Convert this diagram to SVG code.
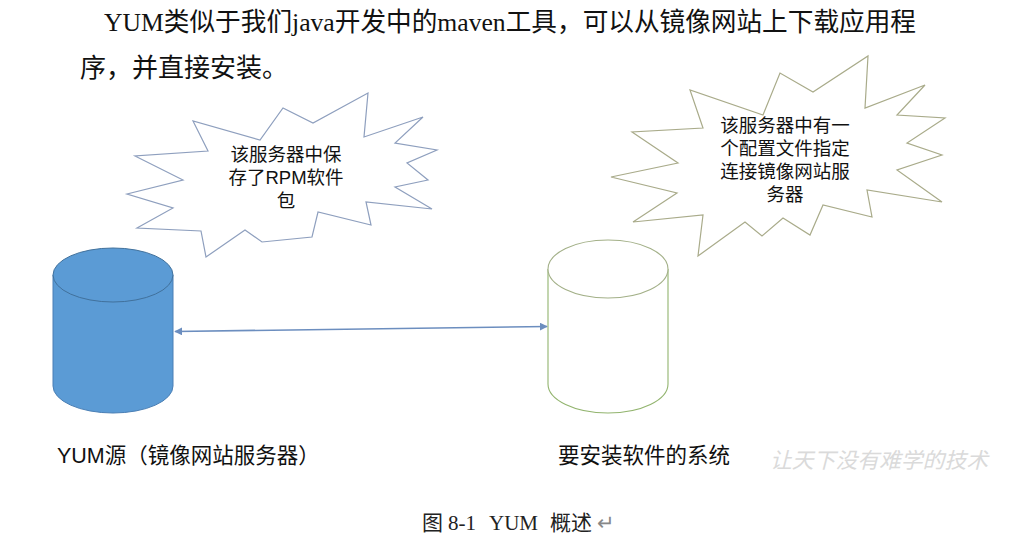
<svg xmlns="http://www.w3.org/2000/svg" width="1013" height="550" viewBox="0 0 1013 550">
<style>
.cjk{font-family:"Liberation Sans","Noto Sans CJK SC",sans-serif;fill:#111}
.ser{font-family:"Liberation Serif","Noto Sans CJK SC",serif}
.bubtxt{font-family:"Liberation Sans","Noto Sans CJK SC",sans-serif;font-size:18.5px;fill:#111;text-anchor:middle}
.burst1{fill:#ffffff;stroke:#8e9fbe;stroke-width:1.2;stroke-linejoin:miter}
.burst2{fill:#ffffff;stroke:#a9ab8a;stroke-width:1.2;stroke-linejoin:miter}
.label{font-family:"Liberation Sans","Noto Sans CJK SC",sans-serif;font-size:21.5px;fill:#111}
</style>
<defs>
<marker id="ah" viewBox="0 0 10 10" refX="9" refY="5" markerWidth="5" markerHeight="5" orient="auto-start-reverse" markerUnits="strokeWidth">
<path d="M0,0 L10,5 L0,10 z" fill="#6c8ebf"/>
</marker>
</defs>
<rect width="1013" height="550" fill="#ffffff"/>

<g id="intro">
<text x="104" y="31" font-size="26" textLength="812" lengthAdjust="spacingAndGlyphs" class="cjk"><tspan class="ser">YUM</tspan>类似于我们<tspan class="ser">java</tspan>开发中的<tspan class="ser">maven</tspan>工具，可以从镜像网站上下载应用程</text>
<text x="80" y="77" font-size="26" class="cjk">序，并直接安装。</text>
</g>

<g id="bubble-left">
<polygon class="burst1" points="368,93 364,137 423,117 395,143 437,150 407,163 428,180 395,187 432,209 366,202 371,225 318,212 312,237 262,242 245,230 206,257 201,231 137,228 173,208 127,194 183,180 135,156 208,151 193,121 260,140 283,108 313,123"/>
<text class="bubtxt"><tspan x="286" y="161">该服务器中保</tspan><tspan x="286" y="184">存了RPM软件</tspan><tspan x="286" y="207">包</tspan></text>
</g>

<g id="bubble-right">
<polygon class="burst2" points="868,56 865,108 925,85 897,115 945,118 907,143 942,155 897,170 942,202 867,190 872,217 823,205 810,235 783,218 762,236 745,222 698,256 703,215 633,222 677,193 611,177 678,163 632,132 703,128 690,90 763,115 780,73 813,92"/>
<text class="bubtxt"><tspan x="785" y="132">该服务器中有一</tspan><tspan x="785" y="155">个配置文件指定</tspan><tspan x="785" y="178">连接镜像网站服</tspan><tspan x="785" y="201">务器</tspan></text>
</g>

<g id="yum-source">
<path d="M53,275 L53,386 A60,27 0 0 0 173,386 L173,275 Z" fill="#5b9bd5" stroke="#4a7fb5" stroke-width="1"/>
<ellipse cx="113" cy="275" rx="60" ry="27" fill="#5b9bd5" stroke="#41719c" stroke-width="1"/>
<text x="57" y="463" class="label">YUM源（镜像网站服务器）</text>
</g>

<g id="target-system">
<path d="M548,269 L548,384 A60,29 0 0 0 668,384 L668,269" fill="#ffffff" stroke="#92b46e" stroke-width="1.1"/>
<ellipse cx="608" cy="269" rx="60" ry="29" fill="#ffffff" stroke="#a3b088" stroke-width="1.1"/>
<text x="558" y="463" class="label" font-size="22.5">要安装软件的系统</text>
</g>

<g id="connectors">
<line x1="175" y1="331.5" x2="547" y2="326.5" stroke="#6c8ebf" stroke-width="1.6" marker-start="url(#ah)" marker-end="url(#ah)"/>
</g>

<g id="watermark">
<text x="770" y="468" font-family="Noto Sans CJK SC,sans-serif" font-size="21.5" font-style="italic" fill="#dadada" textLength="218" lengthAdjust="spacingAndGlyphs">让天下没有难学的技术</text>
</g>

<g id="caption">
<text y="530" font-size="21" class="ser" fill="#222"><tspan x="422" font-family="Noto Sans CJK SC,sans-serif">图</tspan><tspan x="448">8-1</tspan><tspan x="489">YUM</tspan><tspan x="550" font-family="Noto Sans CJK SC,sans-serif">概述</tspan><tspan x="597" fill="#888">↵</tspan></text>
</g>
</svg>
